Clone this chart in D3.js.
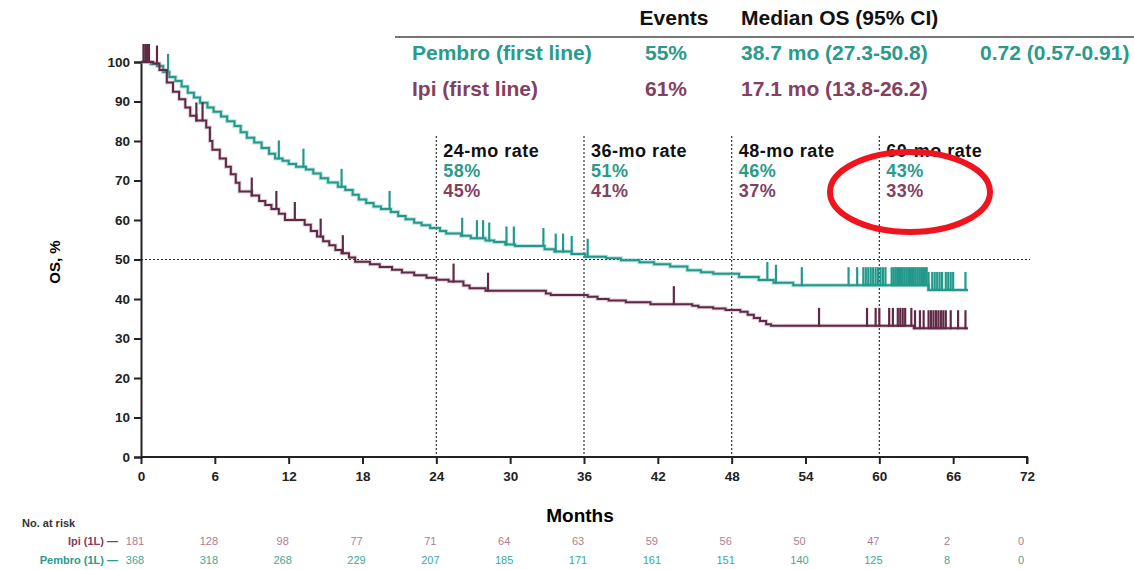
<!DOCTYPE html>
<html>
<head>
<meta charset="utf-8">
<script src="https://cdn.jsdelivr.net/npm/d3@7"></script>
<style>
  body { margin: 0; background: #fff; }
  svg { font-family: "Liberation Sans", Arial, sans-serif; }
</style>
</head>
<body>
<div id="chart"></div>
<script>
// KM steps: [month, OS %]
const pembroSteps = [
  [0, 100], [0.8, 99.5], [1.3, 99.0], [1.8, 97.5], [2.3, 96.2], [2.8, 95.2], [3.3, 93.8],
  [3.8, 92.2], [4.3, 91.0], [4.8, 89.7], [5.4, 88.5], [5.9, 87.4], [6.5, 86.2], [7.0, 85.0],
  [7.6, 83.8], [8.1, 82.2], [8.6, 80.8], [9.2, 79.6], [9.8, 78.2], [10.4, 76.8], [10.9, 75.6],
  [11.5, 75.0], [12.0, 74.2], [12.6, 73.5], [13.4, 72.8], [14.0, 71.8], [14.6, 70.6],
  [15.2, 69.5], [16.0, 68.4], [16.6, 67.6], [17.2, 66.4], [17.7, 65.2], [18.3, 64.3],
  [18.9, 63.4], [19.5, 62.8], [20.3, 62.0], [20.9, 61.0], [21.5, 60.2], [22.2, 59.3],
  [22.8, 58.7], [23.5, 58.0], [24.3, 57.2], [24.8, 56.6], [26.0, 56.0], [26.8, 55.4],
  [28.0, 54.8], [28.7, 54.4], [29.6, 53.8], [30.4, 53.4], [32.8, 52.6], [33.6, 52.0],
  [35.0, 51.4], [36.1, 50.7], [37.8, 50.3], [39.0, 49.8], [40.5, 49.3], [41.7, 48.8],
  [43.0, 48.2], [44.4, 47.3], [45.5, 46.8], [46.5, 46.4], [48.6, 45.6], [50.2, 44.8],
  [51.4, 44.1], [53.0, 43.5], [64.0, 42.3], [67.2, 42.3]
];
const ipiSteps = [
  [0, 100], [1.0, 99.6], [1.5, 98.0], [2.1, 94.8], [2.6, 92.5], [3.1, 90.6], [3.6, 88.5],
  [4.0, 86.4], [4.5, 85.2], [5.3, 83.4], [5.6, 80.0], [5.8, 77.8], [6.4, 75.6], [6.9, 73.5],
  [7.3, 71.6], [7.7, 69.4], [8.0, 67.2], [9.0, 66.2], [9.6, 64.8], [10.1, 63.8], [10.6, 62.8],
  [11.2, 61.6], [11.7, 60.0], [13.3, 58.8], [13.8, 57.2], [14.3, 55.8], [14.8, 54.6],
  [15.3, 53.6], [15.8, 52.4], [16.3, 51.6], [16.9, 50.5], [17.4, 49.4], [18.6, 48.8],
  [19.4, 48.1], [20.4, 47.4], [21.2, 46.7], [22.2, 46.0], [23.2, 45.4], [24.0, 44.9],
  [25.0, 44.4], [26.2, 43.4], [26.7, 42.7], [28.0, 42.1], [32.9, 41.4], [33.3, 41.0],
  [36.3, 40.6], [37.1, 40.0], [38.0, 39.6], [39.4, 39.2], [41.4, 38.7], [44.8, 38.3],
  [45.3, 37.9], [46.5, 37.6], [47.5, 37.2], [48.7, 36.8], [49.3, 36.0], [49.8, 35.2],
  [50.3, 34.4], [50.8, 33.6], [51.2, 33.2], [62.8, 32.6], [67.2, 32.6]
];
// censor marks (months)
const pembroCensor = [2.2, 11.2, 13.2, 16.3, 20.2, 26.1, 27.3, 27.8, 28.3, 29.7, 30.3, 32.7,
  33.7, 34.3, 35.0, 36.3, 50.9, 51.6, 53.7, 57.5, 58.2, 58.7, 58.9, 59.1, 59.3, 59.5, 59.7,
  59.9, 60.1, 60.3, 60.5, 61.0, 61.15, 61.3, 61.45, 61.6, 61.75, 61.9, 62.05, 62.2, 62.35,
  62.5, 62.65, 62.8, 62.95, 63.1, 63.25, 63.4, 63.55, 63.7, 63.85, 64.0, 64.3, 64.5, 64.7,
  64.9, 65.1, 65.4, 65.6, 65.8, 66.0, 67.0];
const ipiCensor = [0.2, 0.35, 0.5, 0.65, 1.3, 4.5, 5.0, 9.0, 11.0, 12.5, 14.6, 16.4, 25.4,
  28.2, 43.3, 55.1, 59.0, 59.7, 60.0, 60.8, 61.1, 61.5, 61.7, 61.9, 62.1, 62.6, 62.9, 63.3,
  63.6, 64.0, 64.2, 64.4, 64.6, 64.8, 65.0, 65.2, 65.4, 65.8, 66.4, 67.0];

const xTicks = d3.range(0, 73, 6);
const yTicks = d3.range(0, 101, 10);
const rateMonths = [24, 36, 48, 60];
const pembroRates = ["58%", "51%", "46%", "43%"];
const ipiRates = ["45%", "41%", "37%", "33%"];
const ipiAtRisk = [181, 128, 98, 77, 71, 64, 63, 59, 56, 50, 47, 2, 0];
const pembroAtRisk = [368, 318, 268, 229, 207, 185, 171, 161, 151, 140, 125, 8, 0];

const tableHead = ["Events", "Median OS (95% CI)"];
const tableRows = [
  { name: "Pembro (first line)", events: "55%", median: "38.7 mo (27.3-50.8)", hr: "0.72 (0.57-0.91)" },
  { name: "Ipi (first line)", events: "61%", median: "17.1 mo (13.8-26.2)", hr: "" }
];

const teal = "#23998c", tealText = "#2a9a8b", tealLight = "#3aa99c";
const plum = "#5e2a45", plumText = "#83405f", plumLight = "#b07b95";

const svg = d3.select("#chart").append("svg").attr("width", 1134).attr("height", 570);

const x = d3.scaleLinear().domain([0, 72]).range([141, 1027]);
const y = d3.scaleLinear().domain([0, 100]).range([457, 62]);

// reference lines
svg.append("line")
  .attr("x1", x(0)).attr("x2", 1030).attr("y1", y(50)).attr("y2", y(50))
  .attr("stroke", "#222").attr("stroke-width", 1.2).attr("stroke-dasharray", "2,2");
svg.selectAll(".vref").data(rateMonths).enter().append("line")
  .attr("x1", d => x(d)).attr("x2", d => x(d)).attr("y1", 136).attr("y2", y(0))
  .attr("stroke", "#333").attr("stroke-width", 1.2).attr("stroke-dasharray", "2,2");

// axes
const yAxis = svg.append("g").attr("transform", "translate(" + x(0) + ",0)")
  .call(d3.axisLeft(y).tickValues(yTicks).tickSize(7).tickPadding(4));
const xAxis = svg.append("g").attr("transform", "translate(0," + y(0) + ")")
  .call(d3.axisBottom(x).tickValues(xTicks).tickSize(7).tickPadding(7));
[xAxis, yAxis].forEach(g => {
  g.select(".domain").attr("stroke", "#222").attr("stroke-width", 2);
  g.selectAll(".tick line").attr("stroke", "#222").attr("stroke-width", 2);
  g.selectAll(".tick text").attr("fill", "#222").attr("font-size", 13.5).attr("font-weight", "bold")
    .attr("font-family", "Liberation Sans, Arial, sans-serif");
});
xAxis.select(".domain").attr("d", "M" + x(0) + ",0H" + x(72) + "V7");

svg.append("text").attr("transform", "translate(60,262) rotate(-90)")
  .attr("text-anchor", "middle").attr("font-size", 15).attr("font-weight", "bold").text("OS, %");
svg.append("text").attr("x", 580).attr("y", 522).attr("text-anchor", "middle")
  .attr("font-size", 19).attr("font-weight", "bold").text("Months");

// curves
const line = d3.line().x(d => x(d[0])).y(d => y(d[1])).curve(d3.curveStepAfter);
const bis = d3.bisector(d => d[0]).right;
function survAt(steps, t) { return steps[Math.max(0, bis(steps, t) - 1)][1]; }

function drawArm(steps, censor, color, light) {
  svg.append("path").attr("d", line(steps)).attr("fill", "none")
    .attr("stroke", light).attr("stroke-opacity", 0.35).attr("stroke-width", 4);
  svg.append("path").attr("d", line(steps)).attr("fill", "none")
    .attr("stroke", color).attr("stroke-width", 2);
  svg.append("g").selectAll("line").data(censor).enter().append("line")
    .attr("x1", d => x(d)).attr("x2", d => x(d))
    .attr("y1", d => y(survAt(steps, d)) + 1).attr("y2", d => y(survAt(steps, d)) - 18)
    .attr("stroke", color).attr("stroke-width", 2.2);
}
drawArm(pembroSteps, pembroCensor, teal, tealLight);
drawArm(ipiSteps, ipiCensor, plum, plumLight);

// rate labels
rateMonths.forEach((m, i) => {
  const g = svg.append("g").attr("font-size", 18).attr("font-weight", "bold").attr("letter-spacing", 0.5);
  g.append("text").attr("x", x(m) + 7).attr("y", 157).attr("fill", "#111").text(m + "-mo rate");
  g.append("text").attr("x", x(m) + 7).attr("y", 177).attr("fill", tealText).text(pembroRates[i]);
  g.append("text").attr("x", x(m) + 7).attr("y", 197).attr("fill", plumText).text(ipiRates[i]);
});

// top table
const tbl = svg.append("g").attr("font-size", 21).attr("font-weight", "bold");
tbl.append("text").attr("x", 674).attr("y", 25).attr("text-anchor", "middle").attr("fill", "#111").text(tableHead[0]);
tbl.append("text").attr("x", 741).attr("y", 25).attr("fill", "#111").text(tableHead[1]);
tbl.append("line").attr("x1", 395).attr("x2", 1134).attr("y1", 37).attr("y2", 37)
  .attr("stroke", "#777").attr("stroke-width", 2);
tableRows.forEach((r, i) => {
  const yy = 60 + i * 36;
  const c = i === 0 ? tealText : plumText;
  tbl.append("text").attr("x", 412).attr("y", yy).attr("fill", c).text(r.name);
  tbl.append("text").attr("x", 666).attr("y", yy).attr("text-anchor", "middle").attr("fill", c).text(r.events);
  tbl.append("text").attr("x", 741).attr("y", yy).attr("fill", c).text(r.median);
  tbl.append("text").attr("x", 980).attr("y", yy).attr("fill", c).text(r.hr);
});

// number at risk
svg.append("text").attr("x", 22).attr("y", 527).attr("font-size", 11).attr("font-weight", "bold")
  .attr("fill", "#333").text("No. at risk");
svg.append("text").attr("x", 118).attr("y", 545).attr("text-anchor", "end").attr("font-size", 11)
  .attr("font-weight", "bold").attr("fill", plumText).text("Ipi (1L) \u2014");
svg.append("text").attr("x", 118).attr("y", 564).attr("text-anchor", "end").attr("font-size", 11)
  .attr("font-weight", "bold").attr("fill", tealText).text("Pembro (1L) \u2014");
svg.append("g").selectAll("text").data(ipiAtRisk).enter().append("text")
  .attr("x", (d, i) => x(xTicks[i]) - 6).attr("y", 545).attr("text-anchor", "middle")
  .attr("font-size", 11).attr("fill", plumLight).text(d => d);
svg.append("g").selectAll("text").data(pembroAtRisk).enter().append("text")
  .attr("x", (d, i) => x(xTicks[i]) - 6).attr("y", 564).attr("text-anchor", "middle")
  .attr("font-size", 11).attr("fill", tealLight).text(d => d);

// red highlight ellipse
svg.append("ellipse").attr("cx", 910).attr("cy", 192).attr("rx", 80).attr("ry", 40)
  .attr("fill", "none").attr("stroke", "#f0141e").attr("stroke-width", 6);
</script>
</body>
</html>
